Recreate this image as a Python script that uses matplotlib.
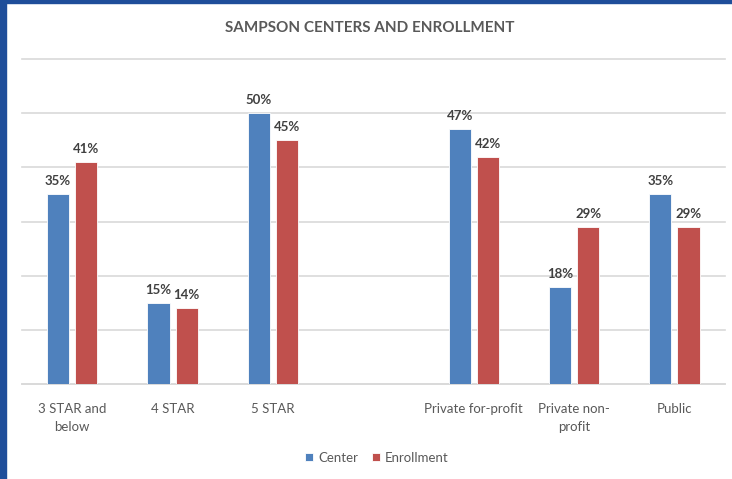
import numpy as np
import matplotlib
matplotlib.use("Agg")
import matplotlib.pyplot as plt
from matplotlib.patches import Rectangle

# Data (percent); blank slot separates the two groups
categories = ["3 STAR and\nbelow", "4 STAR", "5 STAR", "",
              "Private for-profit", "Private non-\nprofit", "Public"]
center = [35, 15, 50, np.nan, 47, 18, 35]
enrollment = [41, 14, 45, np.nan, 42, 29, 29]

colour_center = '#4F81BD'
colour_enroll = '#C0504D'
textColour = '#595959'
labelColour = '#404040'
gridColour = '#D9D9D9'

fontList = ['Lato', 'DejaVu Sans']
plt.rcParams['font.family'] = fontList

fig = plt.figure(figsize=(7.32, 4.79), dpi=100)
ax = fig.add_axes([0.030, 0.1983, 0.960, 0.6785])

x = np.arange(len(categories))
barWidth = 0.22
offset = 0.14

b1 = ax.bar(x - offset, center, barWidth, color=colour_center,
            edgecolor='white', linewidth=0.6, label='Center', zorder=3)
b2 = ax.bar(x + offset, enrollment, barWidth, color=colour_enroll,
            edgecolor='white', linewidth=0.6, label='Enrollment', zorder=3)

for bars, vals in [(b1, center), (b2, enrollment)]:
    for rect, v in zip(bars, vals):
        if np.isnan(v):
            continue
        ax.annotate(f"{v:.0f}%", (rect.get_x() + rect.get_width() / 2, v),
                    xytext=(0, 5), textcoords='offset points',
                    ha='center', va='bottom', fontsize=9.5,
                    fontweight='bold', color=labelColour)

ax.set_xlim(-0.5, len(categories) - 0.5)
ax.set_ylim(0, 60)
ax.set_yticks(np.arange(0, 61, 10))
ax.yaxis.grid(True, color=gridColour, linewidth=1.2, zorder=0)
for gl in ax.get_ygridlines():
    gl.set_clip_on(False)
ax.set_yticklabels([])
ax.tick_params(axis='y', length=0)
ax.tick_params(axis='x', length=0, pad=14, labelsize=9.5, labelcolor=textColour)
ax.set_xticks(x)
ax.set_xticklabels(categories, linespacing=1.55)
for s in ['top', 'right', 'left']:
    ax.spines[s].set_visible(False)
ax.spines['bottom'].set_color(gridColour)
ax.spines['bottom'].set_linewidth(1.2)

fig.text(0.505, 0.9415, "SAMPSON CENTERS AND ENROLLMENT", ha='center',
         va='center', fontsize=11, fontweight='bold', color=textColour)

fig.legend(handles=[b1, b2], loc='center', bbox_to_anchor=(0.515, 0.044),
           ncol=2, frameon=False, fontsize=9.5, handlelength=0.6,
           handleheight=0.6, handletextpad=0.4, columnspacing=1.0,
           labelcolor=textColour)

# blue frame of the screenshot
fig.patches.append(Rectangle((0, 0), 6 / 732, 1, transform=fig.transFigure,
                             color='#1F4E9A', zorder=10))
fig.patches.append(Rectangle((0, 1 - 3 / 479), 1, 3 / 479,
                             transform=fig.transFigure, color='#1F4E9A', zorder=10))

fig.savefig("out.png", dpi=100)
